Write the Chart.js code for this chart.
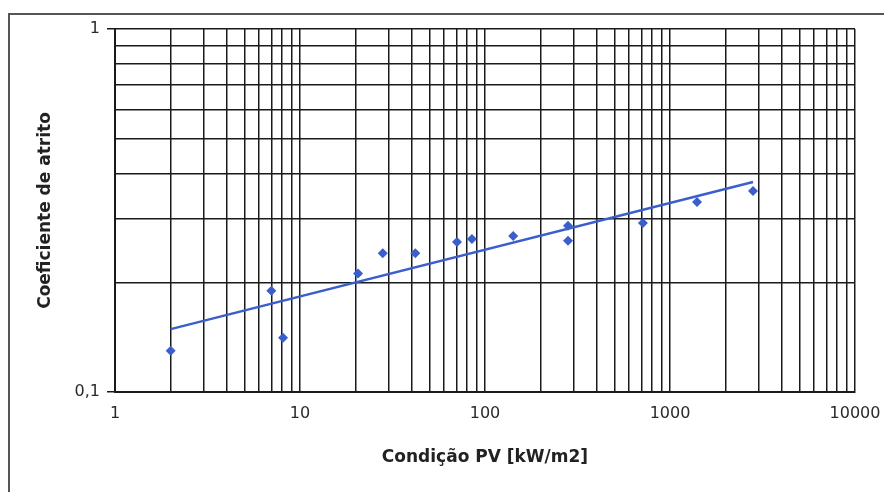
<!DOCTYPE html>
<html>
<head>
<meta charset="utf-8">
<script src="https://cdn.jsdelivr.net/npm/chart.js@4"></script>
<style>
  html, body { margin: 0; padding: 0; background: #fff; }
  #wrap { width: 884px; height: 492px; }
</style>
</head>
<body>
<div id="wrap"><canvas id="myChart" width="884" height="492"></canvas></div>
<script>
// data
const pvValues = [2, 7, 8.1, 20.6, 28, 42, 70.6, 85, 142, 281, 281, 714, 1400, 2810];
const frictionValues = [0.130, 0.190, 0.141, 0.212, 0.241, 0.241, 0.259, 0.264, 0.269, 0.287, 0.261, 0.292, 0.334, 0.358];
const trendX = [2, 2810];
const trendY = [0.149, 0.379];
const xTickValues = [1, 10, 100, 1000, 10000];
const xTickLabels = ['1', '10', '100', '1000', '10000'];
const yTickValues = [0.1, 1];
const yTickLabels = ['0,1', '1'];

const blue = '#3a5fcd';

// log grid: 1..9 in every decade between min and max
function logGrid(min, max) {
    const out = [];
    for (let d = min; d < max; d *= 10) {
        for (let k = 1; k < 10; k++) out.push({ value: +(d * k).toPrecision(6) });
    }
    out.push({ value: max });
    return out;
}

function labelFor(values, labels, v) {
    const i = values.findIndex(t => Math.abs(t - v) / t < 1e-6);
    return i >= 0 ? labels[i] : '';
}

const frame = {
    id: 'frame',
    beforeDraw(chart) {
        const ctx = chart.ctx;
        ctx.save();
        ctx.fillStyle = '#fff';
        ctx.fillRect(0, 0, chart.width, chart.height);
        ctx.strokeStyle = '#555';
        ctx.lineWidth = 2;
        ctx.strokeRect(9, 14, chart.width + 20, chart.height + 20);
        ctx.restore();
    }
};

const data = {
    datasets: [{
            type: 'line',
            label: 'trend',
            data: trendX.map((x, i) => ({ x: x, y: trendY[i] })),
            borderColor: blue,
            borderWidth: 2.5,
            pointRadius: 0,
            fill: false
        },
        {
            type: 'scatter',
            label: 'Coeficiente de atrito',
            data: pvValues.map((x, i) => ({ x: x, y: frictionValues[i] })),
            backgroundColor: blue,
            borderColor: blue,
            pointStyle: 'rectRot',
            pointRadius: 5,
            borderWidth: 0
        }
    ]
};

const tickFont = { family: 'DejaVu Sans', size: 16 };
const titleFont = { family: 'DejaVu Sans', size: 17, weight: 'bold' };

const config = {
    type: 'scatter',
    data,
    plugins: [frame],
    options: {
        responsive: false,
        animation: false,
        layout: { padding: { left: 0, top: 29, right: 29, bottom: 0 } },
        plugins: { legend: { display: false }, tooltip: { enabled: false } },
        scales: {
            x: {
                type: 'logarithmic',
                min: 1,
                max: 10000,
                afterBuildTicks: s => { s.ticks = logGrid(1, 10000); },
                afterFit: s => { s.height = 100; s.paddingLeft = 0; s.paddingRight = 0; },
                grid: { color: '#1a1a1a', lineWidth: 1.5, drawTicks: false },
                border: { color: '#1a1a1a', width: 2 },
                ticks: {
                    autoSkip: false,
                    maxRotation: 0,
                    padding: 12,
                    color: '#2a2a2a',
                    font: tickFont,
                    callback: v => labelFor(xTickValues, xTickLabels, v)
                },
                title: {
                    display: true,
                    text: 'Condição PV [kW/m2]',
                    color: '#222',
                    font: titleFont,
                    padding: { top: 0, bottom: 24 }
                }
            },
            y: {
                type: 'logarithmic',
                min: 0.1,
                max: 1,
                afterBuildTicks: s => { s.ticks = logGrid(0.1, 1); },
                afterFit: s => { s.width = 115; s.paddingTop = 0; s.paddingBottom = 0; },
                grid: {
                    color: '#1a1a1a',
                    lineWidth: 1.5,
                    tickLength: 8,
                    tickColor: c => (labelFor(yTickValues, yTickLabels, c.tick.value) ? '#1a1a1a' : 'rgba(0,0,0,0)')
                },
                border: { color: '#1a1a1a', width: 2 },
                ticks: {
                    autoSkip: false,
                    padding: 7,
                    color: '#2a2a2a',
                    font: tickFont,
                    callback: v => labelFor(yTickValues, yTickLabels, v)
                },
                title: {
                    display: true,
                    text: 'Coeficiente de atrito',
                    color: '#222',
                    font: titleFont,
                    padding: { top: 35, bottom: 0 }
                }
            }
        }
    }
};

const myChart = new Chart(document.getElementById('myChart'), config);
</script>
</body>
</html>
